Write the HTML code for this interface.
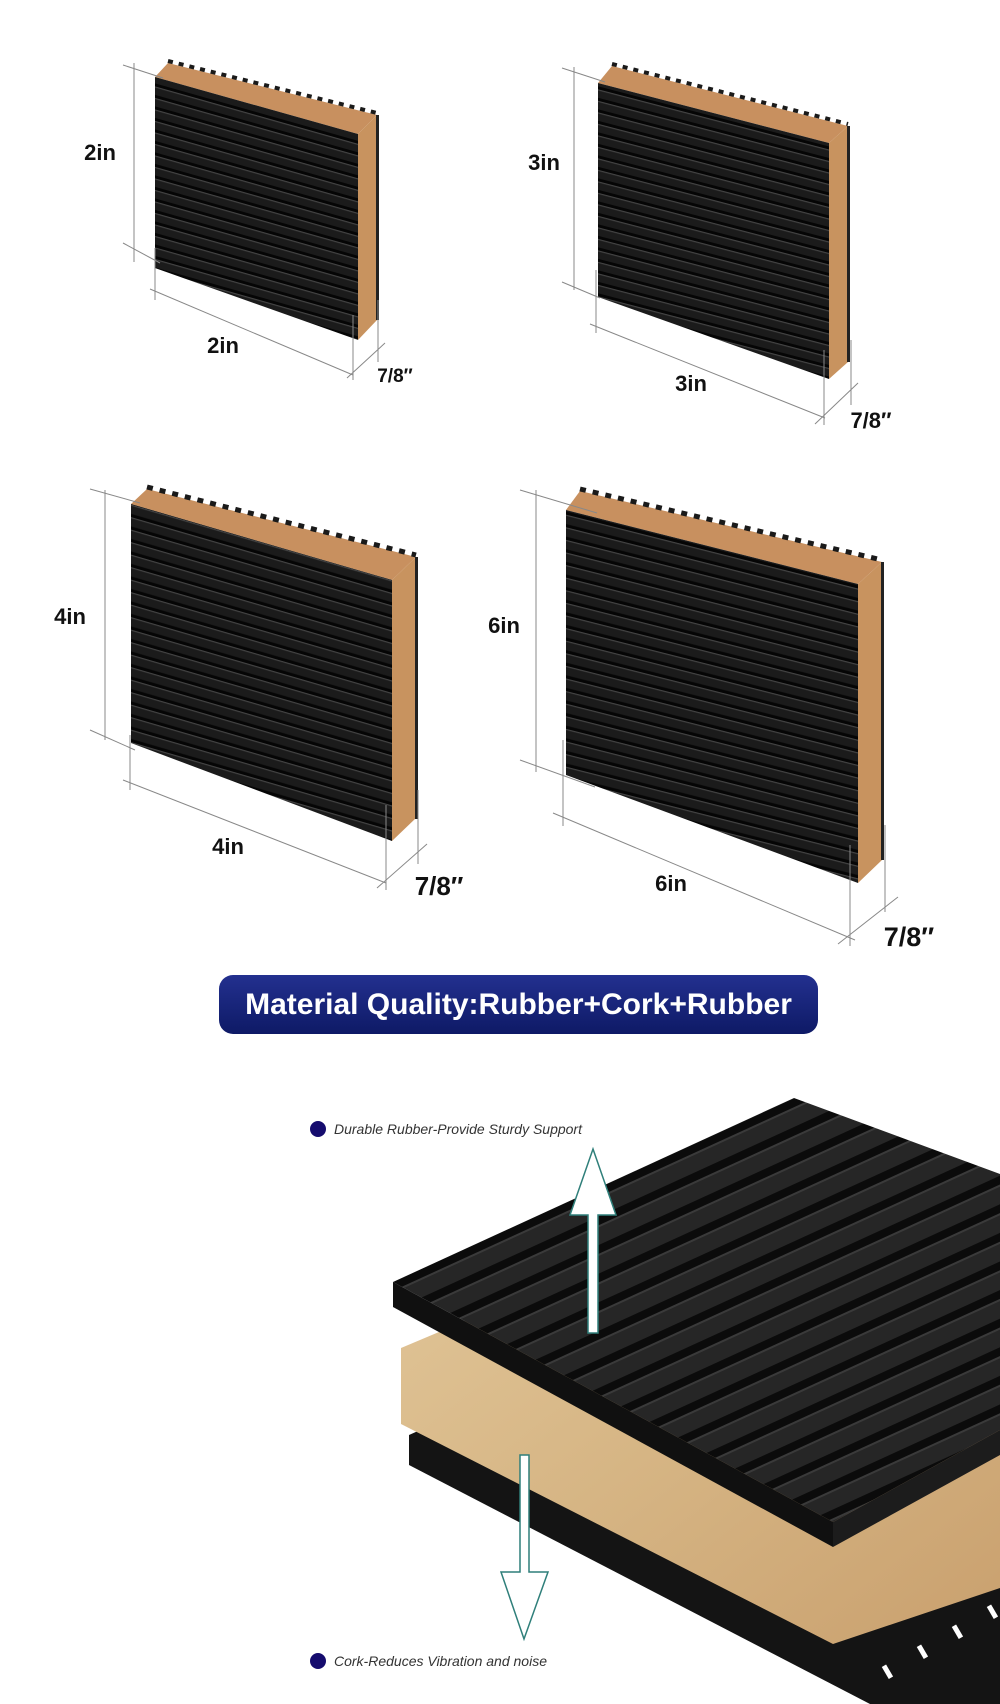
<!DOCTYPE html>
<html><head><meta charset="utf-8"><style>
html,body{margin:0;padding:0;background:#fff;}
body{width:1000px;height:1704px;overflow:hidden;position:relative;font-family:"Liberation Sans",sans-serif;}
svg{position:absolute;left:0;top:0;}
</style></head><body>
<svg width="1000" height="1704" viewBox="0 0 1000 1704" xmlns="http://www.w3.org/2000/svg">
<defs>
<pattern id="r1" patternUnits="userSpaceOnUse" width="10" height="11.5" patternTransform="translate(0,77) skewY(15.8)">
 <rect width="10" height="11.5" fill="#1b1b1b"/><rect y="0" width="10" height="1.2" fill="#444"/><rect y="8.5" width="10" height="3" fill="#050505"/></pattern>
<pattern id="r2" patternUnits="userSpaceOnUse" width="10" height="11.5" patternTransform="translate(0,83) skewY(14.6)">
 <rect width="10" height="11.5" fill="#1b1b1b"/><rect y="0" width="10" height="1.2" fill="#444"/><rect y="8.5" width="10" height="3" fill="#050505"/></pattern>
<pattern id="r3" patternUnits="userSpaceOnUse" width="10" height="12.5" patternTransform="translate(0,504) skewY(16.2)">
 <rect width="10" height="12.5" fill="#1b1b1b"/><rect y="0" width="10" height="1.2" fill="#444"/><rect y="9.3" width="10" height="3.2" fill="#050505"/></pattern>
<pattern id="r4" patternUnits="userSpaceOnUse" width="10" height="12.6" patternTransform="translate(0,510) skewY(14.2)">
 <rect width="10" height="12.6" fill="#1b1b1b"/><rect y="0" width="10" height="1.2" fill="#444"/><rect y="9.4" width="10" height="3.2" fill="#050505"/></pattern>
<pattern id="big" patternUnits="userSpaceOnUse" width="40" height="26" patternTransform="translate(393,1282) rotate(-24.6)">
 <rect width="40" height="26" fill="#262626"/><rect y="0" width="40" height="8" fill="#0b0b0b"/><rect y="8" width="40" height="2" fill="#3a3a3a"/></pattern>
<linearGradient id="cork" x1="0" y1="0" x2="1" y2="1"><stop offset="0" stop-color="#e2c79a"/><stop offset="0.5" stop-color="#d6b584"/><stop offset="1" stop-color="#c9a06e"/></linearGradient>
<linearGradient id="ban" x1="0" y1="0" x2="0" y2="1"><stop offset="0" stop-color="#23308f"/><stop offset="1" stop-color="#0e1a66"/></linearGradient>
</defs>

<!-- PAD 1 -->
<g>
<polygon points="155,77 168,63 377,115 358,134" fill="#c8905f"/>
<line x1="168" y1="61" x2="377" y2="113" stroke="#1a1a1a" stroke-width="4" stroke-dasharray="5 6"/>
<polygon points="358,134 377,115 377,320 358,340" fill="#c8935f"/>
<rect x="376" y="115" width="3" height="205" fill="#222"/>
<polygon points="155,77 358,134 358,340 155,268" fill="url(#r1)"/>
<g stroke="#888" stroke-width="1" fill="none">
<line x1="134" y1="63" x2="134" y2="262"/><line x1="123" y1="65" x2="163" y2="78"/><line x1="123" y1="243" x2="160" y2="263"/>
<line x1="150" y1="289" x2="353" y2="375"/><line x1="155" y1="248" x2="155" y2="300"/><line x1="353" y1="315" x2="353" y2="380"/>
<line x1="347" y1="378" x2="385" y2="343"/><line x1="378" y1="300" x2="378" y2="362"/></g>
</g>

<!-- PAD 2 -->
<g>
<polygon points="598,83 612,66 848,126 829,143" fill="#c8905f"/>
<line x1="612" y1="64" x2="848" y2="124" stroke="#1a1a1a" stroke-width="4" stroke-dasharray="5 6"/>
<polygon points="829,143 848,126 848,362 829,379" fill="#c8935f"/>
<rect x="847" y="126" width="3" height="236" fill="#222"/>
<polygon points="598,83 829,143 829,379 598,297" fill="url(#r2)"/>
<g stroke="#888" stroke-width="1" fill="none">
<line x1="574" y1="67" x2="574" y2="290"/><line x1="562" y1="68" x2="605" y2="82"/><line x1="562" y1="282" x2="600" y2="298"/>
<line x1="590" y1="324" x2="825" y2="418"/><line x1="596" y1="270" x2="596" y2="333"/><line x1="824" y1="350" x2="824" y2="425"/>
<line x1="815" y1="424" x2="858" y2="383"/><line x1="851" y1="340" x2="851" y2="405"/></g>
</g>

<!-- PAD 3 -->
<g>
<polygon points="131,504 147,489 416,557 392,580" fill="#c8905f"/>
<line x1="147" y1="487" x2="416" y2="555" stroke="#1a1a1a" stroke-width="5" stroke-dasharray="6 7"/>
<polygon points="392,580 416,557 416,818 392,841" fill="#c8935f"/>
<rect x="415" y="557" width="3" height="262" fill="#222"/>
<polygon points="131,504 392,580 392,841 131,743" fill="url(#r3)"/>
<g stroke="#888" stroke-width="1" fill="none">
<line x1="105" y1="490" x2="105" y2="740"/><line x1="90" y1="489" x2="140" y2="503"/><line x1="90" y1="730" x2="135" y2="750"/>
<line x1="123" y1="780" x2="386" y2="883"/><line x1="130" y1="735" x2="130" y2="790"/><line x1="386" y1="805" x2="386" y2="890"/>
<line x1="377" y1="888" x2="427" y2="844"/><line x1="418" y1="790" x2="418" y2="864"/></g>
</g>

<!-- PAD 4 -->
<g>
<polygon points="566,510 580,491 882,562 858,584" fill="#c8905f"/>
<line x1="580" y1="489" x2="882" y2="560" stroke="#1a1a1a" stroke-width="5" stroke-dasharray="6 7"/>
<polygon points="858,584 882,562 882,860 858,883" fill="#c8935f"/>
<rect x="881" y="562" width="3" height="298" fill="#222"/>
<polygon points="566,510 858,584 858,883 566,775" fill="url(#r4)"/>
<g stroke="#888" stroke-width="1" fill="none">
<line x1="536" y1="490" x2="536" y2="772"/><line x1="520" y1="490" x2="597" y2="513"/><line x1="520" y1="760" x2="595" y2="787"/>
<line x1="553" y1="813" x2="855" y2="940"/><line x1="563" y1="740" x2="563" y2="826"/><line x1="850" y1="845" x2="850" y2="946"/>
<line x1="838" y1="944" x2="898" y2="897"/><line x1="885" y1="825" x2="885" y2="912"/></g>
</g>

<g font-family="Liberation Sans, sans-serif" font-weight="bold" fill="#111">
<text x="100" y="160" font-size="22" text-anchor="middle">2in</text>
<text x="223" y="353" font-size="22" text-anchor="middle">2in</text>
<text x="395" y="382" font-size="19" text-anchor="middle">7/8″</text>
<text x="544" y="170" font-size="22" text-anchor="middle">3in</text>
<text x="691" y="391" font-size="22" text-anchor="middle">3in</text>
<text x="871" y="428" font-size="22" text-anchor="middle">7/8″</text>
<text x="70" y="624" font-size="22" text-anchor="middle">4in</text>
<text x="228" y="854" font-size="22" text-anchor="middle">4in</text>
<text x="439" y="895" font-size="26" text-anchor="middle">7/8″</text>
<text x="504" y="633" font-size="22" text-anchor="middle">6in</text>
<text x="671" y="891" font-size="22" text-anchor="middle">6in</text>
<text x="909" y="946" font-size="27" text-anchor="middle">7/8″</text>
</g>

<!-- banner -->
<rect x="219" y="975" width="599" height="59" rx="14" fill="url(#ban)"/>
<text x="518.5" y="1014" font-size="30" font-weight="bold" fill="#fff" text-anchor="middle" font-family="Liberation Sans, sans-serif">Material Quality:Rubber+Cork+Rubber</text>

<!-- layered image -->
<polygon points="409,1435 600,1350 1000,1530 1000,1704 870,1704 409,1465" fill="#141414"/>
<g fill="#fff"><rect x="885" y="1665" width="5" height="14" transform="rotate(-30 887 1672)"/><rect x="920" y="1645" width="5" height="14" transform="rotate(-30 922 1652)"/><rect x="955" y="1625" width="5" height="14" transform="rotate(-30 957 1632)"/><rect x="990" y="1605" width="5" height="14" transform="rotate(-30 992 1612)"/></g>
<polygon points="401,1348 800,1180 1000,1260 1000,1588 833,1644 401,1424" fill="url(#cork)"/>
<polygon points="393,1282 794,1098 1000,1174 1000,1430 833,1522" fill="url(#big)"/>
<polygon points="393,1282 833,1522 833,1547 393,1307" fill="#101010"/>
<polygon points="833,1522 1000,1430 1000,1455 833,1547" fill="#1c1c1c"/>

<!-- arrows -->
<polygon points="593,1149 616,1215 598,1215 598,1333 588,1333 588,1215 570,1215" fill="#fff" stroke="#2f7f7a" stroke-width="1.5"/>
<polygon points="520,1455 529,1455 529,1572 548,1572 524,1639 501,1572 520,1572" fill="#fff" stroke="#2f7f7a" stroke-width="1.5"/>

<circle cx="318" cy="1129" r="8" fill="#150c6e"/>
<text x="334" y="1134" font-size="14" font-style="italic" fill="#333" font-family="Liberation Sans, sans-serif">Durable Rubber-Provide Sturdy Support</text>
<circle cx="318" cy="1661" r="8" fill="#150c6e"/>
<text x="334" y="1666" font-size="14" font-style="italic" fill="#333" font-family="Liberation Sans, sans-serif">Cork-Reduces Vibration and noise</text>
</svg>
</body></html>
